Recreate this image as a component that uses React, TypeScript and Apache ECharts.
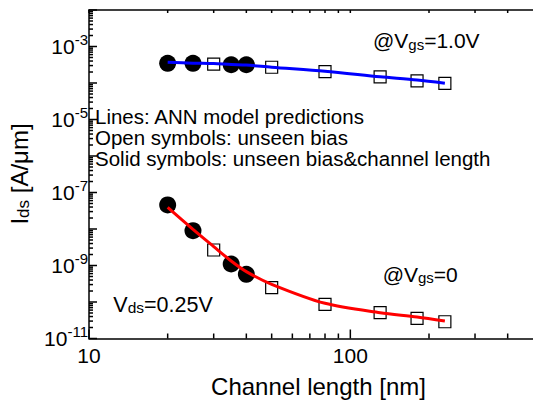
import React, { useEffect, useRef } from "react";
import * as echarts from "echarts";

const FONT = "'Liberation Sans', Arial, Helvetica, sans-serif";

// Channel lengths [nm]
const solidLengths = [20, 25, 35, 40];
const openLengths = [30, 50, 80, 130, 180, 230];
const annLengths = [20, 25, 30, 35, 40, 50, 80, 130, 180, 230];

// @Vgs = 1.0 V  (Ids in A/um)
const solidHigh = [3.47e-4, 3.47e-4, 3.16e-4, 3.16e-4];
const openHigh = [3.3e-4, 2.7e-4, 2.04e-4, 1.48e-4, 1.14e-4, 9.8e-5];
const annHigh = [3.7e-4, 3.5e-4, 3.4e-4, 3.2e-4, 3.1e-4, 2.7e-4, 2.1e-4, 1.48e-4, 1.2e-4, 9.8e-5];

// @Vgs = 0
const solidLow = [4.55e-8, 8.98e-9, 1.1e-9, 5.74e-10];
const openLow = [2.66e-9, 2.47e-10, 8.65e-11, 5.1e-11, 3.57e-11, 2.88e-11];
const annLow = [3.9e-8, 9.8e-9, 3.3e-9, 1.33e-9, 6.8e-10, 3.05e-10, 9.2e-11, 5.1e-11, 3.9e-11, 3.0e-11];

// Axis ranges and ticks
const xMin = 10;
const xMax = 500;
const yMin = 1e-11;
const yMax = 1e-2;
const xMajorTicks = [10, 100];
const xMinorTicks = [20, 30, 40, 50, 60, 70, 80, 90, 200, 300, 400];
const xTickLabels = [10, 100];
const yDecadeExps = [-11, -10, -9, -8, -7, -6, -5, -4, -3, -2];
const yMinorMultipliers = [2, 3, 4, 5, 6, 7, 8, 9];
const yTickLabelExps = [-11, -9, -7, -5, -3];

const lg = (v: number) => Math.log10(v);
const pairs = (xs: number[], ys: number[]) => xs.map((x, i) => [x, ys[i]]);

type Side = "bottom" | "top" | "left";

// Tick marks drawn as thin rect symbols placed through the log axes
function tickSeries(name: string, side: Side, values: number[], len: number) {
  const data = values.map((v) =>
    side === "left" ? [xMin, v] : side === "top" ? [v, yMax] : [v, yMin]
  );
  const vertical = side !== "left";
  const thick = 1.5;
  return {
    type: "scatter",
    name,
    xAxisIndex: 0,
    yAxisIndex: 0,
    z: 10,
    silent: true,
    clip: false,
    symbol: "rect",
    symbolSize: vertical ? [thick, len] : [len, thick],
    symbolOffset:
      side === "bottom" ? [0, -len / 2] : side === "top" ? [0, len / 2] : [len / 2, 0],
    itemStyle: { color: "#000", opacity: 1 },
    data,
  };
}

export default function App() {
  const ref = useRef<HTMLDivElement>(null);

  useEffect(() => {
    if (!ref.current) return;
    const chart = echarts.init(ref.current, undefined, { renderer: "svg" });

    const lxMin = lg(xMin);
    const lxMax = lg(xMax);
    const lyMin = lg(yMin);
    const lyMax = lg(yMax);
    const yMinorVals: number[] = [];
    yDecadeExps.slice(0, -1).forEach((e) =>
      yMinorMultipliers.forEach((m) => yMinorVals.push(m * Math.pow(10, e)))
    );
    const yMajorVals = yDecadeExps.map((e) => Math.pow(10, e));
    const black = "#000";
    const hidden = {
      axisLine: { show: false },
      axisTick: { show: false },
      axisLabel: { show: false },
      splitLine: { show: false },
    };

    const option: any = {
      animation: false,
      backgroundColor: "#fff",
      grid: { left: 89, right: -3, top: 10, bottom: 65.5, containLabel: false },
      xAxis: [
        { type: "log", logBase: 10, min: xMin, max: xMax, position: "bottom", ...hidden },
        {
          type: "value", min: lxMin, max: lxMax, position: "bottom",
          axisLine: { show: true, onZero: false, lineStyle: { color: black, width: 1.5 } },
          axisTick: { show: false },
          axisLabel: {
            show: true, customValues: xTickLabels.map(lg), margin: 6,
            formatter: (v: number) => `${Math.round(Math.pow(10, v))}`,
            color: black, fontSize: 21, lineHeight: 21, fontFamily: FONT,
          },
          splitLine: { show: false },
        },
        {
          type: "value", min: lxMin, max: lxMax, position: "top",
          axisLine: { show: true, onZero: false, lineStyle: { color: black, width: 1.5 } },
          axisTick: { show: false },
          axisLabel: { show: false },
          splitLine: { show: false },
        },
      ],
      yAxis: [
        { type: "log", logBase: 10, min: yMin, max: yMax, position: "left", ...hidden },
        {
          type: "value", min: lyMin, max: lyMax, position: "left",
          axisLine: { show: true, onZero: false, lineStyle: { color: black, width: 1.5 } },
          axisTick: { show: false },
          axisLabel: {
            show: true, customValues: yTickLabelExps, margin: 1,
            formatter: (v: number) => `{b|10}{s|${Math.round(v)}}`,
            rich: {
              b: { fontSize: 21, lineHeight: 30, fontFamily: FONT, color: black },
              s: { fontSize: 15, lineHeight: 13, verticalAlign: "top", fontFamily: FONT, color: black },
            },
          },
          splitLine: { show: false },
        },
      ],
      graphic: [
        {
          type: "text", x: 19, y: 174, rotation: Math.PI / 2,
          style: {
            text: "{b|I}{s|ds}{b| [A/μm]}",
            textAlign: "center", textVerticalAlign: "middle",
            fill: black, fontFamily: FONT, fontSize: 24,
            rich: {
              b: { fontSize: 24, lineHeight: 26, fontFamily: FONT, fill: black },
              s: { fontSize: 17, lineHeight: 19, verticalAlign: "bottom", fontFamily: FONT, fill: black },
            },
          },
        },
        {
          type: "text", x: 318.5, y: 386,
          style: {
            text: "Channel length [nm]", textAlign: "center", textVerticalAlign: "middle",
            fill: black, fontFamily: FONT, fontSize: 24,
          },
        },
        {
          type: "text", x: 95, y: 106.2,
          style: {
            text: "Lines: ANN model predictions\nOpen symbols: unseen bias\nSolid symbols: unseen bias&channel length",
            textAlign: "left", textVerticalAlign: "top",
            fill: black, fontFamily: FONT, fontSize: 20.5, lineHeight: 21,
          },
        },
        {
          type: "text", x: 373, y: 40.8,
          style: {
            text: "{b|@V}{s|gs}{b|=1.0V}", textAlign: "left", textVerticalAlign: "middle",
            fill: black, fontFamily: FONT, fontSize: 21,
            rich: {
              b: { fontSize: 21, lineHeight: 22, fontFamily: FONT, fill: black },
              s: { fontSize: 15, lineHeight: 16, verticalAlign: "bottom", fontFamily: FONT, fill: black },
            },
          },
        },
        {
          type: "text", x: 382.7, y: 274,
          style: {
            text: "{b|@V}{s|gs}{b|=0}", textAlign: "left", textVerticalAlign: "middle",
            fill: black, fontFamily: FONT, fontSize: 21,
            rich: {
              b: { fontSize: 21, lineHeight: 22, fontFamily: FONT, fill: black },
              s: { fontSize: 15, lineHeight: 16, verticalAlign: "bottom", fontFamily: FONT, fill: black },
            },
          },
        },
        {
          type: "text", x: 113.3, y: 304.5,
          style: {
            text: "{b|V}{s|ds}{b|=0.25V}", textAlign: "left", textVerticalAlign: "middle",
            fill: black, fontFamily: FONT, fontSize: 21.5,
            rich: {
              b: { fontSize: 21.5, lineHeight: 22, fontFamily: FONT, fill: black },
              s: { fontSize: 15.5, lineHeight: 16, verticalAlign: "bottom", fontFamily: FONT, fill: black },
            },
          },
        },
      ],
      series: [
        {
          type: "scatter", name: "solid-high", xAxisIndex: 0, yAxisIndex: 0, z: 2,
          symbol: "circle", symbolSize: 17, itemStyle: { color: black, opacity: 1 },
          data: pairs(solidLengths, solidHigh),
        },
        {
          type: "scatter", name: "solid-low", xAxisIndex: 0, yAxisIndex: 0, z: 2,
          symbol: "circle", symbolSize: 17, itemStyle: { color: black, opacity: 1 },
          data: pairs(solidLengths, solidLow),
        },
        {
          type: "scatter", name: "open-high", xAxisIndex: 0, yAxisIndex: 0, z: 2,
          symbol: "rect", symbolSize: 12,
          itemStyle: { color: "rgba(255,255,255,0)", borderColor: black, borderWidth: 1.2, opacity: 1 },
          data: pairs(openLengths, openHigh),
        },
        {
          type: "scatter", name: "open-low", xAxisIndex: 0, yAxisIndex: 0, z: 2,
          symbol: "rect", symbolSize: 12,
          itemStyle: { color: "rgba(255,255,255,0)", borderColor: black, borderWidth: 1.2, opacity: 1 },
          data: pairs(openLengths, openLow),
        },
        {
          type: "line", name: "ann-high", xAxisIndex: 0, yAxisIndex: 0, z: 3,
          showSymbol: false, symbol: "none", smooth: 0.3,
          lineStyle: { color: "#0000ff", width: 3 },
          data: pairs(annLengths, annHigh),
        },
        {
          type: "line", name: "ann-low", xAxisIndex: 0, yAxisIndex: 0, z: 3,
          showSymbol: false, symbol: "none", smooth: 0.3,
          lineStyle: { color: "#ff0000", width: 3 },
          data: pairs(annLengths, annLow),
        },
        tickSeries("x-minor-bottom", "bottom", xMinorTicks, 5),
        tickSeries("x-major-bottom", "bottom", xMajorTicks, 9),
        tickSeries("x-top", "top", [...xMajorTicks, ...xMinorTicks], 3),
        tickSeries("y-minor", "left", yMinorVals, 4),
        tickSeries("y-major", "left", yMajorVals, 8),
      ],
    };

    chart.setOption(option);
    return () => chart.dispose();
  }, []);

  return (
    <div
      ref={ref}
      style={{ position: "fixed", left: 0, top: 0, width: 533, height: 404, background: "#fff" }}
    />
  );
}
